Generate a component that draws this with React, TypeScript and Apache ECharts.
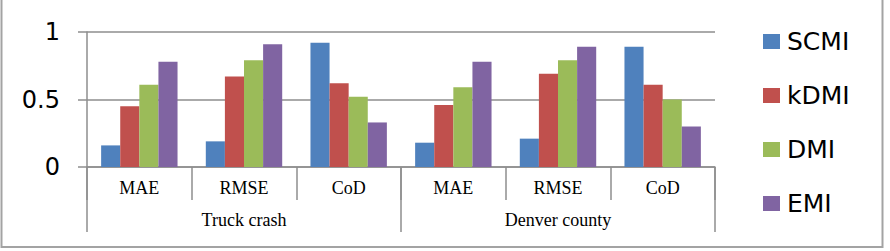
import React, { useEffect, useRef } from "react";
import * as echarts from "echarts";

// Inner (metric) and outer (dataset) category levels
const metrics = ["MAE", "RMSE", "CoD", "MAE", "RMSE", "CoD"];
const datasets = ["Truck crash", "Denver county"];
const yTicks = { min: 0, max: 1, interval: 0.5 };

// Scores per method, in the order of `metrics`
const scmi = [0.16, 0.19, 0.92, 0.18, 0.21, 0.89];
const kdmi = [0.45, 0.67, 0.62, 0.46, 0.69, 0.61];
const dmi = [0.61, 0.79, 0.52, 0.59, 0.79, 0.5];
const emi = [0.78, 0.91, 0.33, 0.78, 0.89, 0.3];

const methods = [
  { name: "SCMI", values: scmi, color: "#4F81BD" },
  { name: "kDMI", values: kdmi, color: "#C0504D" },
  { name: "DMI", values: dmi, color: "#9BBB59" },
  { name: "EMI", values: emi, color: "#8064A2" },
];

const GRAY = "#8e8e8e";

export default function App() {
  const ref = useRef<HTMLDivElement>(null);

  useEffect(() => {
    document.body.style.margin = "0";
    if (!ref.current) return;
    const chart = echarts.init(ref.current, undefined, { renderer: "svg" });
    chart.setOption({
      animation: false,
      backgroundColor: "#ffffff",
      grid: { left: 87, right: 175, top: 32, bottom: 84, containLabel: false },
      legend: {
        orient: "vertical",
        left: 763,
        top: 29,
        padding: 0,
        itemWidth: 17,
        itemHeight: 15,
        itemGap: 29,
        icon: "rect",
        textStyle: {
          fontFamily: "DejaVu Sans",
          fontSize: 25,
          lineHeight: 25,
          color: "#000",
          padding: [0, 0, 0, 2],
        },
        data: methods.map((m) => m.name),
      },
      xAxis: [
        {
          type: "category",
          data: metrics,
          position: "bottom",
          boundaryGap: true,
          axisLine: { show: true, lineStyle: { color: GRAY, width: 1.5 } },
          axisTick: { show: true, interval: 0, length: 33, lineStyle: { color: GRAY, width: 1.5 } },
          axisLabel: {
            interval: 0,
            margin: 12,
            fontFamily: "Liberation Serif",
            fontSize: 18,
            color: "#000",
          },
        },
        {
          type: "category",
          data: datasets,
          position: "bottom",
          boundaryGap: true,
          axisLine: { show: false },
          axisTick: { show: true, interval: 0, length: 65, lineStyle: { color: GRAY, width: 1.5 } },
          axisLabel: {
            interval: 0,
            margin: 44,
            fontFamily: "Liberation Serif",
            fontSize: 18,
            color: "#000",
          },
        },
      ],
      yAxis: {
        type: "value",
        min: yTicks.min,
        max: yTicks.max,
        interval: yTicks.interval,
        axisLine: { show: true, lineStyle: { color: GRAY, width: 1.5 } },
        axisTick: { show: true, length: 9, lineStyle: { color: GRAY, width: 1.5 } },
        splitLine: { show: true, lineStyle: { color: GRAY, width: 1.5 } },
        axisLabel: {
          margin: 27,
          fontFamily: "DejaVu Sans",
          fontSize: 24,
          color: "#000",
        },
      },
      series: methods.map((m) => ({
        name: m.name,
        type: "bar",
        xAxisIndex: 0,
        data: m.values,
        barGap: "0%",
        barCategoryGap: "27%",
        itemStyle: { color: m.color },
      })),
      graphic: [
        {
          type: "rect",
          z: -10,
          shape: { x: 1.5, y: -5, width: 881, height: 252 },
          style: { fill: "none", stroke: "#a3a3a3", lineWidth: 2 },
        },
      ],
    });
    return () => chart.dispose();
  }, []);

  return (
    <div
      ref={ref}
      style={{ position: "absolute", left: 0, top: 0, width: 890, height: 251 }}
    />
  );
}
